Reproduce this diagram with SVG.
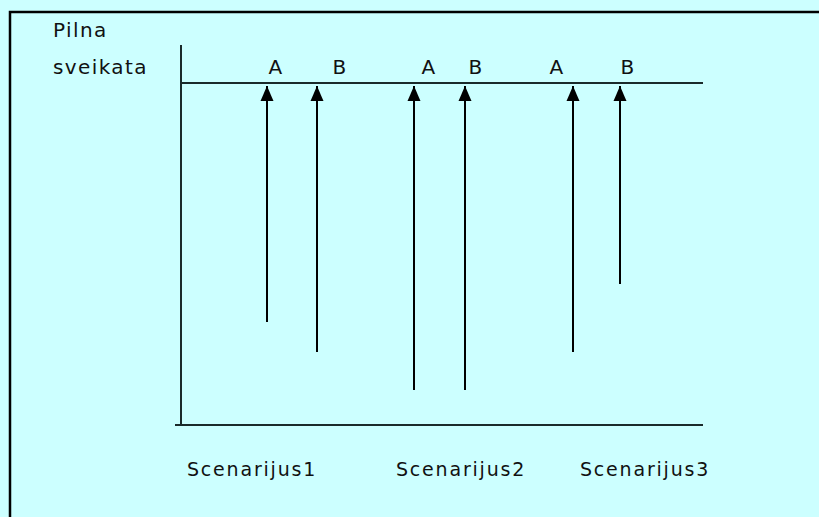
<svg xmlns="http://www.w3.org/2000/svg" width="819" height="517" viewBox="0 0 819 517">
  <style>
    .bg { fill: #ccffff; }
    .frame { stroke: #000; stroke-width: 2.5; fill: none; }
    .axis { stroke: #1a2a2a; stroke-width: 2; fill: none; }
    .arrow { stroke: #000; stroke-width: 2; fill: none; marker-end: url(#head); }
    .lbl { font-family: "DejaVu Sans", "Liberation Sans", sans-serif; font-size: 20px; fill: #111; letter-spacing: 1.4px; }
    .scn { font-family: "DejaVu Sans", "Liberation Sans", sans-serif; font-size: 19px; fill: #111; letter-spacing: 1.8px; }
  </style>
  <defs>
    <!-- arrowhead drawn along +x so orient="auto" points it up the line -->
    <marker id="head" markerUnits="userSpaceOnUse" viewBox="0 0 16 14" refX="15" refY="7" markerWidth="16" markerHeight="14" orient="auto">
      <path d="M15 7 L0 0.5 L0 13.5 Z" fill="#000"/>
    </marker>
  </defs>

  <!-- background panel with top/left frame -->
  <rect class="bg" x="0" y="0" width="819" height="517"/>
  <path class="frame" d="M10 517 V12 H819"/>

  <!-- axes -->
  <g id="axes">
    <path class="axis" d="M181 45 V425"/>
    <path class="axis" d="M181 83 H703"/>
    <path class="axis" d="M175 425 H703"/>
  </g>

  <!-- y-axis caption -->
  <g id="caption">
    <text class="lbl" x="53" y="37">Pilna</text>
    <text class="lbl" x="53" y="74">sveikata</text>
  </g>

  <!-- arrows rising to the full-health line -->
  <g id="connectors">
    <path class="arrow" d="M267 322 V86"/>
    <path class="arrow" d="M317 352 V86"/>
    <path class="arrow" d="M414 390 V86"/>
    <path class="arrow" d="M465 390 V86"/>
    <path class="arrow" d="M573 352 V86"/>
    <path class="arrow" d="M620 284 V86"/>
  </g>

  <!-- A/B markers -->
  <g id="markers" class="lbl" text-anchor="middle">
    <text x="276" y="74">A</text>
    <text x="340" y="74">B</text>
    <text x="429" y="74">A</text>
    <text x="476" y="74">B</text>
    <text x="557" y="74">A</text>
    <text x="628" y="74">B</text>
  </g>

  <!-- scenario labels -->
  <g id="scenarios">
    <text class="scn" x="187" y="476">Scenarijus1</text>
    <text class="scn" x="396" y="476">Scenarijus2</text>
    <text class="scn" x="580" y="476">Scenarijus3</text>
  </g>
</svg>
